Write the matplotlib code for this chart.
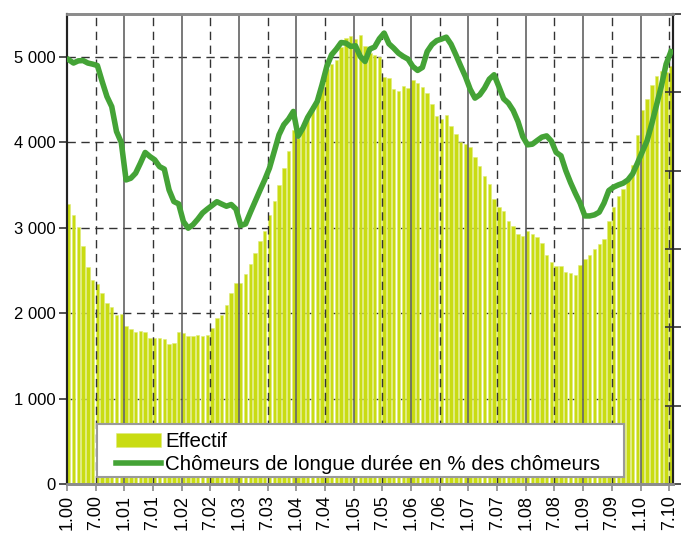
import numpy as np
import matplotlib.pyplot as plt
from matplotlib.patches import Rectangle
from matplotlib.ticker import FuncFormatter

plt.rcParams['font.family'] = ['Liberation Sans', 'DejaVu Sans']

# Effectif des chômeurs de longue durée, mensuel de 1.00 à 7.10
effectif = [
    3280, 3150, 3010, 2790, 2540, 2390, 2340, 2240, 2120, 2070, 1980, 1995,
    1850, 1815, 1780, 1790, 1780, 1710, 1710, 1710, 1700, 1640, 1650, 1780,
    1770, 1730, 1730, 1745, 1730, 1745, 1830, 1940, 1980, 2090, 2240, 2350,
    2350, 2460, 2580, 2700, 2845, 2960, 3150, 3310, 3500, 3700, 3900, 4145,
    4050, 4180, 4300, 4426, 4555, 4672, 4855, 4918, 4965, 5110, 5220, 5245,
    5210, 5257, 5120, 5043, 5023, 4995, 4762, 4750, 4625, 4600, 4660, 4630,
    4730, 4690, 4645, 4580, 4446, 4310, 4274, 4320, 4192, 4098, 4000, 3981,
    3942, 3822, 3716, 3607, 3513, 3337, 3240, 3189, 3080, 3021, 2923, 2904,
    2963, 2927, 2892, 2826, 2681, 2603, 2553, 2553, 2483, 2467, 2447, 2564,
    2634, 2681, 2751, 2810, 2868, 3080, 3236, 3365, 3454, 3568, 3735, 4087,
    4380, 4504, 4672, 4777, 4828, 4817, 4887,
]

# Chômeurs de longue durée en % des chômeurs
part_pct = [
    27.08, 26.87, 27.01, 27.03, 26.87, 26.80, 26.71, 25.69, 24.73, 24.09, 22.50, 21.80,
    19.41, 19.52, 19.84, 20.48, 21.16, 20.90, 20.69, 20.26, 20.10, 18.77, 18.03, 17.88,
    16.75, 16.33, 16.55, 16.90, 17.30, 17.55, 17.78, 18.02, 17.87, 17.73, 17.84, 17.55,
    16.50, 16.60, 17.33, 18.03, 18.73, 19.41, 20.16, 21.22, 22.29, 22.93, 23.29, 23.78,
    22.20, 22.72, 23.40, 23.90, 24.42, 25.48, 26.65, 27.40, 27.76, 28.18, 28.14, 27.93,
    27.97, 27.29, 26.97, 27.76, 27.89, 28.42, 28.78, 28.10, 27.82, 27.50, 27.29, 27.12,
    26.65, 26.40, 26.59, 27.60, 28.05, 28.30, 28.40, 28.52, 28.07, 27.40, 26.69, 26.01,
    25.20, 24.63, 24.84, 25.27, 25.84, 26.12, 25.37, 24.59, 24.31, 23.84, 23.14, 22.18,
    21.65, 21.69, 21.92, 22.14, 22.22, 21.88, 21.16, 20.95, 20.01, 19.24, 18.56, 17.93,
    17.11, 17.11, 17.18, 17.35, 17.93, 18.73, 18.95, 19.09, 19.20, 19.41, 19.80, 20.48,
    21.20, 21.90, 23.00, 24.20, 25.40, 26.80, 27.60,
]

tick_labels = ['1.00', '7.00', '1.01', '7.01', '1.02', '7.02', '1.03', '7.03',
               '1.04', '7.04', '1.05', '7.05', '1.06', '7.06', '1.07', '7.07',
               '1.08', '7.08', '1.09', '7.09', '1.10', '7.10']

bar_color = '#c9dc12'
line_color = '#44a336'
grey = '#8c8c8c'

months = np.arange(len(effectif))
bw = 0.72

fig = plt.figure(figsize=(6.85, 5.34), dpi=100)
ax = fig.add_axes([0.0978, 0.0936, 0.8854, 0.8802])
ax2 = ax.twinx()

# horizontal dashed grid behind the bars
for v in range(1000, 5001, 1000):
    ax.axhline(v, color='#333333', lw=1.0, ls=(0, (6, 4)), zorder=0.5)

ax.bar(months, effectif, width=bw, align='edge', color=bar_color,
       edgecolor='#dfeb7a', linewidth=0.4, zorder=1, label='Effectif')

# vertical lines: solid at January, dashed at July
tick_pos = np.arange(0, len(effectif), 6)
for k, p in enumerate(tick_pos):
    if k == 0:
        continue
    if k % 2 == 0:
        ax.axvline(p, color='#555555', lw=1.1, zorder=1.5)
    else:
        ax.axvline(p, color='#333333', lw=1.0, ls=(0, (6, 4)), zorder=1.5)

ax.set_xlim(0, 126.9)
ax.set_ylim(0, 5500)
ax.set_xticks(tick_pos)
ax.set_xticklabels(tick_labels, rotation=90, fontsize=13)
ax.set_yticks(range(0, 5001, 1000))
ax.yaxis.set_major_formatter(FuncFormatter(lambda v, p: f'{int(v):,}'.replace(',', ' ')))
ax.tick_params(axis='y', labelsize=12, length=6, width=1.2, color='#333333', pad=2)
ax.tick_params(axis='x', length=5, width=1.2, color=grey, pad=3)

ax2.plot(months + bw / 2, part_pct, color=line_color, lw=4, solid_joinstyle='round',
         zorder=3, label='Chômeurs de longue durée en % des chômeurs')
ax2.set_ylim(0, 30)
ax2.set_yticks(range(0, 31, 5))
ax2.tick_params(axis='y', direction='inout', length=12, width=1.2, color='#333333',
                labelright=False)
ax2.set_zorder(ax.get_zorder() + 1)
ax2.patch.set_visible(False)

for a in (ax, ax2):
    a.spines['top'].set_color(grey)
    a.spines['top'].set_linewidth(2)
    a.spines['bottom'].set_color(grey)
    a.spines['bottom'].set_linewidth(2)
    a.spines['left'].set_color('#222222')
    a.spines['left'].set_linewidth(1.5)
    a.spines['right'].set_color('#222222')
    a.spines['right'].set_linewidth(1.5)

# legend box (drawn separately so it can be wider than its content)
ax2.add_patch(Rectangle((0.0495, 0.015), 0.8685, 0.113, transform=ax2.transAxes,
                        facecolor='white', edgecolor='#9a9a9a', lw=1.5, zorder=4))
h1, l1 = ax.get_legend_handles_labels()
h2, l2 = ax2.get_legend_handles_labels()
leg = ax2.legend(h1 + h2, l1 + l2, loc='lower left', bbox_to_anchor=(0.081, 0.022),
                 borderaxespad=0, fontsize=14.8, frameon=False,
                 handlelength=2.2, handleheight=0.65, handletextpad=0.2,
                 labelspacing=0.18, borderpad=0)
leg.set_zorder(5)

fig.savefig('out.png', dpi=100)
